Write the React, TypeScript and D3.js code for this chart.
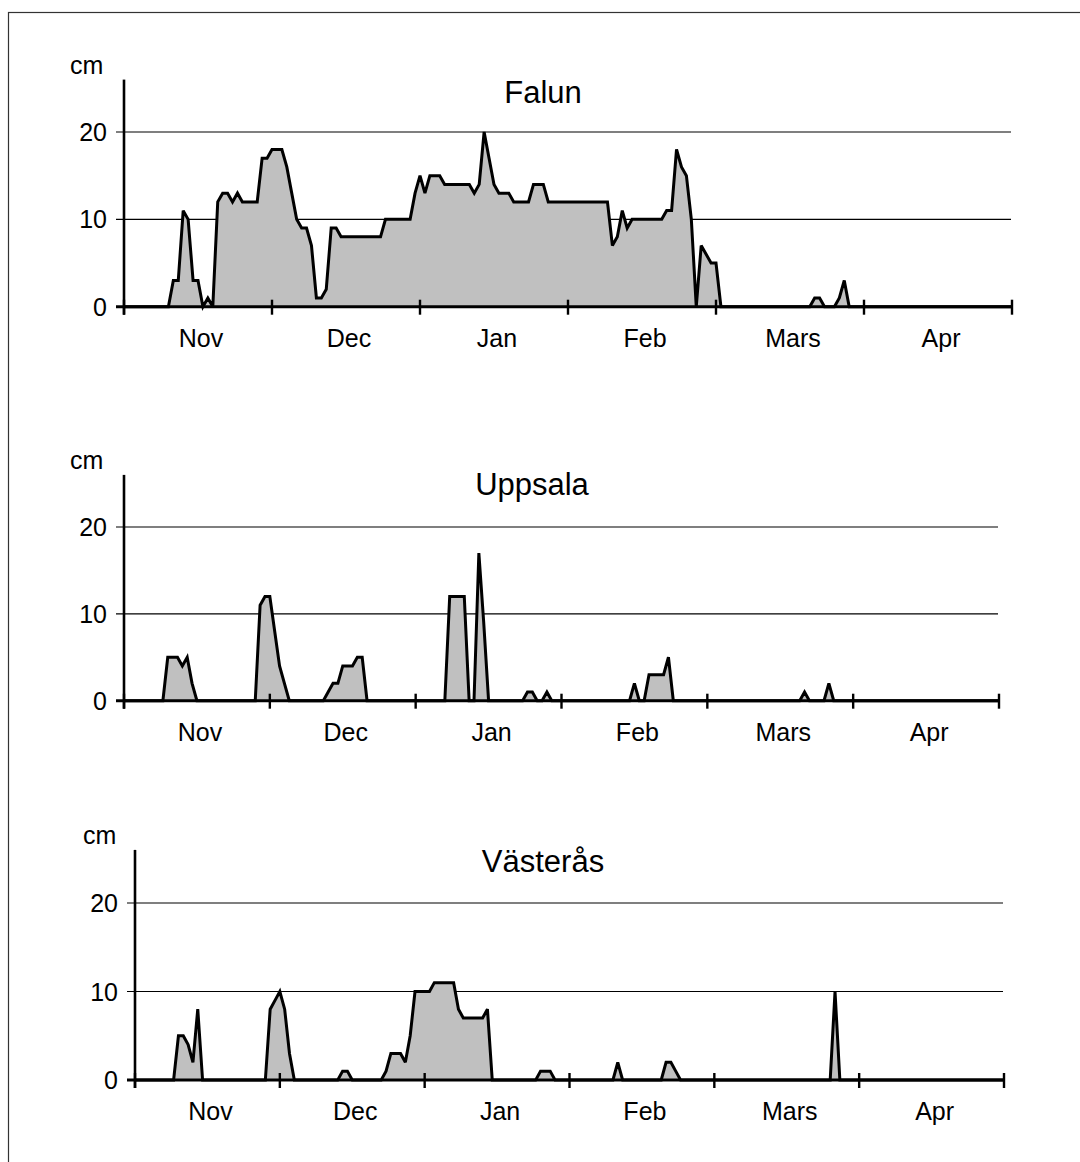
import React from "react";
import * as d3 from "d3";

// ---- data (daily snow depth in cm, 1 Nov .. 30 Apr, 181 days) ----
const falun: number[] = [
  0, 0, 0, 0, 0, 0, 0, 0, 0, 0,
  3, 3, 11, 10, 3, 3, 0, 1, 0, 12,
  13, 13, 12, 13, 12, 12, 12, 12, 17, 17,
  18, 18, 18, 16, 13, 10, 9, 9, 7, 1,
  1, 2, 9, 9, 8, 8, 8, 8, 8, 8,
  8, 8, 8, 10, 10, 10, 10, 10, 10, 13,
  15, 13, 15, 15, 15, 14, 14, 14, 14, 14,
  14, 13, 14, 20, 17, 14, 13, 13, 13, 12,
  12, 12, 12, 14, 14, 14, 12, 12, 12, 12,
  12, 12, 12, 12, 12, 12, 12, 12, 12, 7,
  8, 11, 9, 10, 10, 10, 10, 10, 10, 10,
  11, 11, 18, 16, 15, 10, 0, 7, 6, 5,
  5, 0, 0, 0, 0, 0, 0, 0, 0, 0,
  0, 0, 0, 0, 0, 0, 0, 0, 0, 0,
  1, 1, 0, 0, 0, 1, 3, 0, 0, 0,
  0, 0, 0, 0, 0, 0, 0, 0, 0, 0,
  0, 0, 0, 0, 0, 0, 0, 0, 0, 0,
  0, 0, 0, 0, 0, 0, 0, 0, 0, 0,
  0,
];

const uppsala: number[] = [
  0, 0, 0, 0, 0, 0, 0, 0, 0, 5,
  5, 5, 4, 5, 2, 0, 0, 0, 0, 0,
  0, 0, 0, 0, 0, 0, 0, 0, 11, 12,
  12, 8, 4, 2, 0, 0, 0, 0, 0, 0,
  0, 0, 1, 2, 2, 4, 4, 4, 5, 5,
  0, 0, 0, 0, 0, 0, 0, 0, 0, 0,
  0, 0, 0, 0, 0, 0, 0, 12, 12, 12,
  12, 0, 0, 17, 9, 0, 0, 0, 0, 0,
  0, 0, 0, 1, 1, 0, 0, 1, 0, 0,
  0, 0, 0, 0, 0, 0, 0, 0, 0, 0,
  0, 0, 0, 0, 0, 2, 0, 0, 3, 3,
  3, 3, 5, 0, 0, 0, 0, 0, 0, 0,
  0, 0, 0, 0, 0, 0, 0, 0, 0, 0,
  0, 0, 0, 0, 0, 0, 0, 0, 0, 0,
  1, 0, 0, 0, 0, 2, 0, 0, 0, 0,
  0, 0, 0, 0, 0, 0, 0, 0, 0, 0,
  0, 0, 0, 0, 0, 0, 0, 0, 0, 0,
  0, 0, 0, 0, 0, 0, 0, 0, 0, 0,
  0,
];

const vasteras: number[] = [
  0, 0, 0, 0, 0, 0, 0, 0, 0, 5,
  5, 4, 2, 8, 0, 0, 0, 0, 0, 0,
  0, 0, 0, 0, 0, 0, 0, 0, 8, 9,
  10, 8, 3, 0, 0, 0, 0, 0, 0, 0,
  0, 0, 0, 1, 1, 0, 0, 0, 0, 0,
  0, 0, 1, 3, 3, 3, 2, 5, 10, 10,
  10, 10, 11, 11, 11, 11, 11, 8, 7, 7,
  7, 7, 7, 8, 0, 0, 0, 0, 0, 0,
  0, 0, 0, 0, 1, 1, 1, 0, 0, 0,
  0, 0, 0, 0, 0, 0, 0, 0, 0, 0,
  2, 0, 0, 0, 0, 0, 0, 0, 0, 0,
  2, 2, 1, 0, 0, 0, 0, 0, 0, 0,
  0, 0, 0, 0, 0, 0, 0, 0, 0, 0,
  0, 0, 0, 0, 0, 0, 0, 0, 0, 0,
  0, 0, 0, 0, 0, 10, 0, 0, 0, 0,
  0, 0, 0, 0, 0, 0, 0, 0, 0, 0,
  0, 0, 0, 0, 0, 0, 0, 0, 0, 0,
  0, 0, 0, 0, 0, 0, 0, 0, 0, 0,
  0,
];

const months: string[] = ["Nov", "Dec", "Jan", "Feb", "Mars", "Apr"];
const yTicks: number[] = [0, 10, 20];
const gridValues: number[] = [10, 20];
const unitLabel = "cm";
const stationNames: string[] = ["Falun", "Uppsala", "Västerås"];
const DAYS_PER_TICK = 30;
const N_INTERVALS = 180;

// ---- layout (pixels) ----
const layouts = [
  { axisX: 124, right: 1012, gridRight: 1011, y0: 306.7, y20: 132, titleX: 543, titleY: 103, cmX: 70 },
  { axisX: 124, right: 999, gridRight: 998, y0: 700.7, y20: 527, titleX: 532, titleY: 495, cmX: 70 },
  { axisX: 135, right: 1004, gridRight: 1003, y0: 1080, y20: 903, titleX: 543, titleY: 872, cmX: 83 },
];

const series = [falun, uppsala, vasteras];
const FONT = "'Liberation Sans', Arial, Helvetica, sans-serif";

function Panel({ values, title, L }: { values: number[]; title: string; L: typeof layouts[0] }) {
  const x = d3.scaleLinear().domain([0, N_INTERVALS]).range([L.axisX, L.right]);
  const y = d3.scaleLinear().domain([0, 20]).range([L.y0, L.y20]);
  const area = d3
    .area<number>()
    .x((_, i) => x(i))
    .y0(y(0))
    .y1((d) => y(d));
  const line = d3
    .line<number>()
    .x((_, i) => x(i))
    .y((d) => y(d));
  const topY = y(26);
  const tickPositions = d3.range(0, N_INTERVALS + 1, DAYS_PER_TICK);
  return (
    <g>
      {gridValues.map((g) => (
        <line key={g} x1={L.axisX - 8} x2={L.gridRight} y1={y(g)} y2={y(g)} stroke="#000" strokeWidth={1.2} />
      ))}
      <path d={area(values) || ""} fill="#c0c0c0" stroke="none" />
      <path d={line(values) || ""} fill="none" stroke="#000" strokeWidth={3} strokeLinejoin="miter" strokeMiterlimit={3} />
      {/* x axis */}
      <line x1={L.axisX - 8} x2={L.right} y1={y(0)} y2={y(0)} stroke="#000" strokeWidth={3} />
      {tickPositions.map((t) => (
        <line key={t} x1={x(t)} x2={x(t)} y1={y(0) - 7} y2={y(0) + 8} stroke="#000" strokeWidth={2.4} />
      ))}
      {/* y axis */}
      <line x1={L.axisX} x2={L.axisX} y1={topY} y2={y(0) + 8} stroke="#000" strokeWidth={2.6} />
      {yTicks.map((t) => (
        <text key={t} x={L.axisX - 17} y={y(t) + 9} textAnchor="end" fontFamily={FONT} fontSize={25} fill="#000">
          {t}
        </text>
      ))}
      {months.map((m, i) => (
        <text
          key={m}
          x={x(i * DAYS_PER_TICK + DAYS_PER_TICK / 2) + 3}
          y={y(0) + 40}
          textAnchor="middle"
          fontFamily={FONT}
          fontSize={25}
          fill="#000"
        >
          {m}
        </text>
      ))}
      <text x={L.cmX} y={topY - 6} fontFamily={FONT} fontSize={25} fill="#000">
        {unitLabel}
      </text>
      <text x={L.titleX} y={L.titleY} textAnchor="middle" fontFamily={FONT} fontSize={31} fill="#000">
        {title}
      </text>
    </g>
  );
}

export default function App() {
  return (
    <div style={{ position: "absolute", left: 0, top: 0 }}>
      <svg width={1080} height={1162} viewBox="0 0 1080 1162" style={{ display: "block", background: "#fff" }}>
        <rect x={0} y={0} width={1080} height={1162} fill="#fff" />
        <rect x={8.5} y={12.5} width={1100} height={1200} fill="none" stroke="#333" strokeWidth={1.2} />
        {series.map((s, i) => (
          <Panel key={stationNames[i]} values={s} title={stationNames[i]} L={layouts[i]} />
        ))}
      </svg>
    </div>
  );
}
